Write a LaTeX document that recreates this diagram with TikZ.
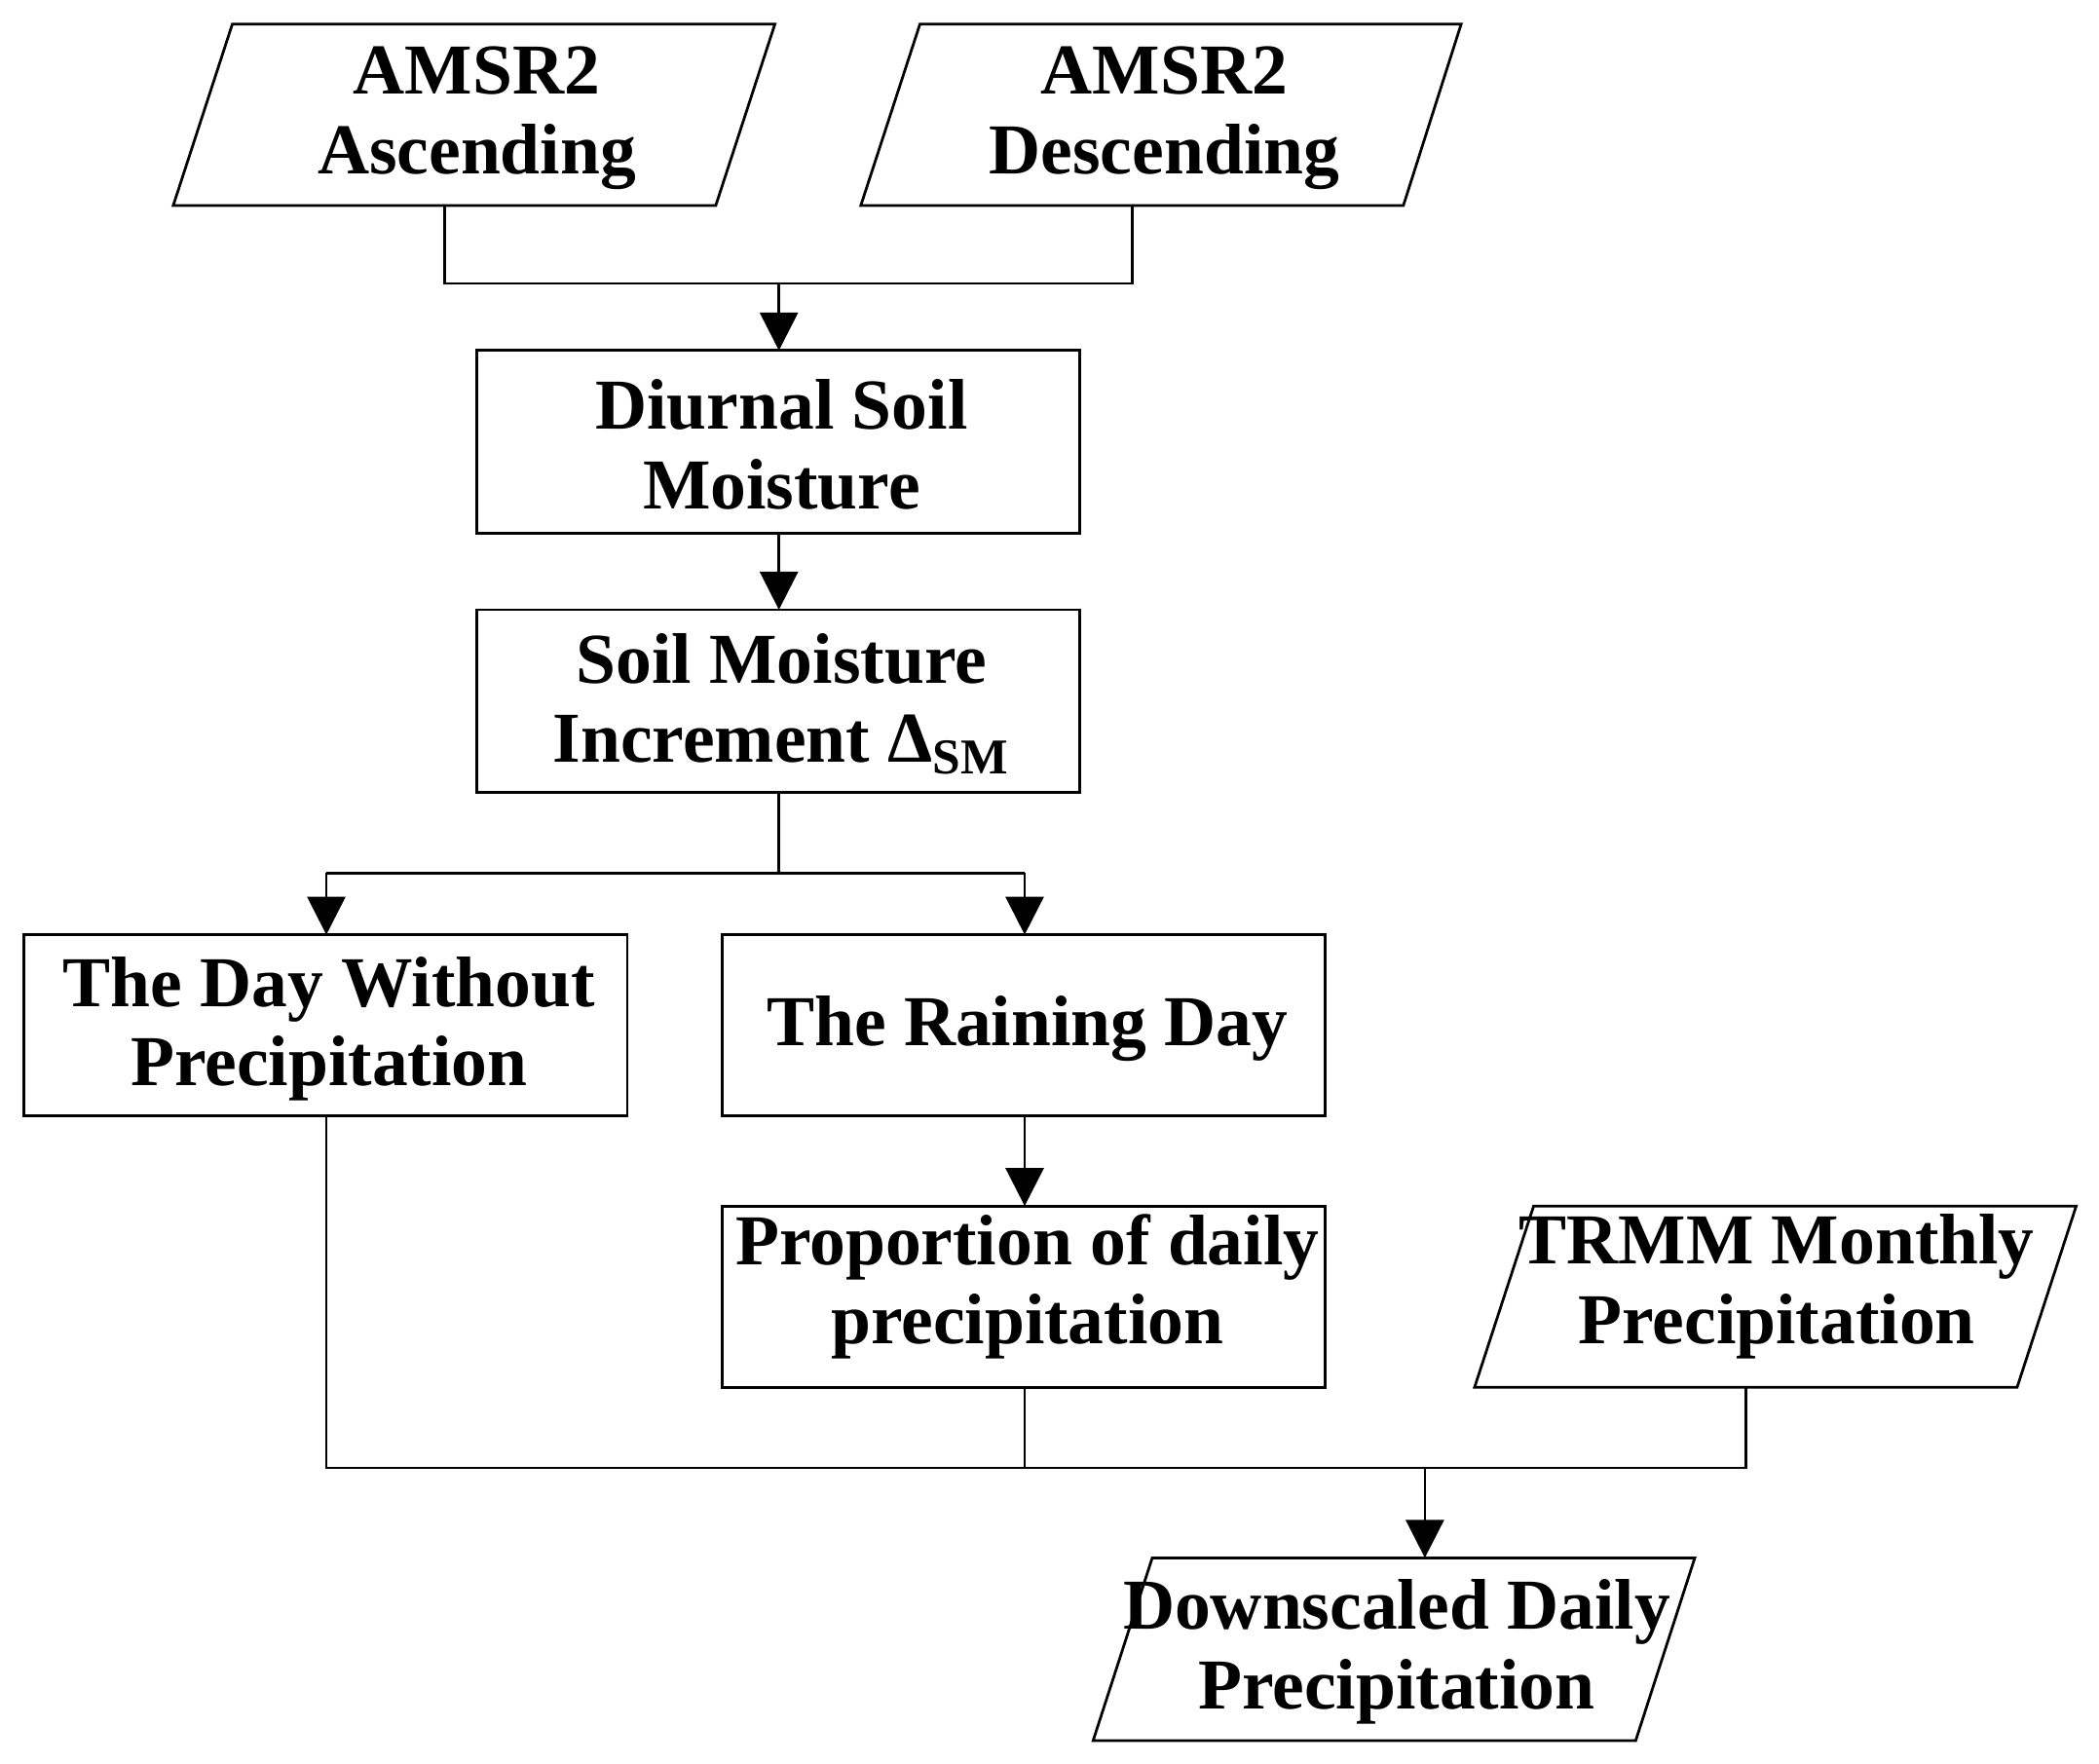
\documentclass[tikz,border=0pt]{standalone}
\usepackage{fontspec}
\setmainfont{Liberation Serif}
\usetikzlibrary{arrows.meta}
\begin{document}
\begin{tikzpicture}[x=0.3pt,y=-0.3pt,
  box/.style={line width=0.6pt},
  lbl/.style={align=center,font=\fontsize{16}{17.7}\selectfont\bfseries,inner sep=0pt},
  con/.style={line width=0.6pt},
  arr/.style={con,-{Triangle[length=8.5pt,width=8.5pt]}}]
\useasboundingbox (0,0) rectangle (1563,1313);
% shapes
\draw[box] (173,18)--(577,18)--(533,153)--(129,153)--cycle;
\draw[box] (685,18)--(1088,18)--(1045,153)--(641,153)--cycle;
\draw[box] (355,261) rectangle (804,397);
\draw[box] (355,454) rectangle (804,590);
\draw[box] (18,696) rectangle (467,831);
\draw[box] (538,696) rectangle (987,831);
\draw[box] (538,898) rectangle (987,1033);
\draw[box] (1142,898)--(1546,898)--(1502,1033)--(1098,1033)--cycle;
\draw[box] (858,1160)--(1262,1160)--(1218,1296)--(814,1296)--cycle;
% labels
\node[lbl] (asc) at (355,88) {AMSR2\\Ascending};
\node[lbl] (desc) at (867,88) {AMSR2\\Descending};
\node[lbl] (diu) at (582,331) {Diurnal Soil\\Moisture};
\node[lbl] (inc) at (582,524) {Soil Moisture\\Increment Δ\textsubscript{SM}};
\node[lbl] (wo) at (245,766) {The Day Without\\Precipitation};
\node[lbl] (rain) at (765,766) {The Raining Day};
\node[lbl] (prop) at (765,958) {Proportion of daily\\precipitation};
\node[lbl] (trmm) at (1323,958) {TRMM Monthly\\Precipitation};
\node[lbl] (down) at (1040,1230) {Downscaled Daily\\Precipitation};
% coordinates
\coordinate (a1) at (331,153); \coordinate (a2) at (331,211);
\coordinate (d1) at (843,153); \coordinate (d2) at (843,211);
\coordinate (m1) at (580,211); \coordinate (m2) at (580,261);
\coordinate (b1) at (580,397); \coordinate (b2) at (580,454);
\coordinate (c1) at (580,590); \coordinate (c2) at (580,650);
\coordinate (l1) at (243,650); \coordinate (l2) at (243,696);
\coordinate (r1) at (763,650); \coordinate (r2) at (763,696);
\coordinate (p1) at (763,831); \coordinate (p2) at (763,898);
\coordinate (w1) at (243,831); \coordinate (w2) at (243,1093);
\coordinate (q1) at (763,1033); \coordinate (q2) at (763,1093);
\coordinate (t1) at (1300,1033); \coordinate (t2) at (1300,1093);
\coordinate (j1) at (1061,1093); \coordinate (j2) at (1061,1160);
% connectors
\draw[con] (a1)--(a2)--(d2)--(d1);
\draw[arr] (m1)--(m2);
\draw[arr] (b1)--(b2);
\draw[con] (c1)--(c2);
\draw[con] (l1)--(r1);
\draw[arr] (l1)--(l2);
\draw[arr] (r1)--(r2);
\draw[arr] (p1)--(p2);
\draw[con] (w1)--(w2)--(t2)--(t1);
\draw[con] (q1)--(q2);
\draw[arr] (j1)--(j2);
\end{tikzpicture}
\end{document}
